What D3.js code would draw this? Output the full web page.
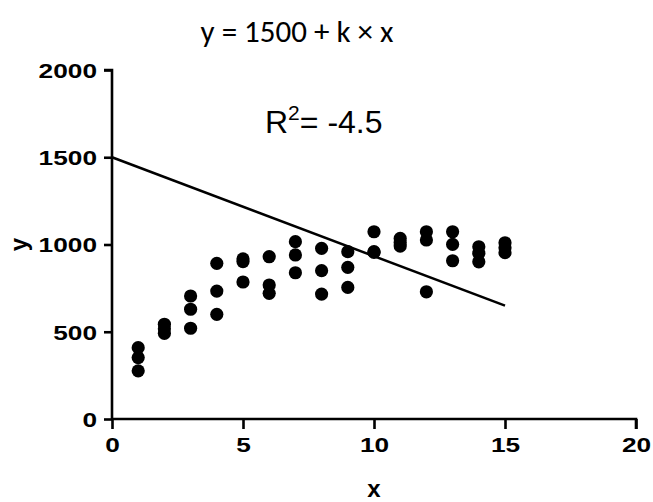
<!DOCTYPE html>
<html>
<head>
<meta charset="utf-8">
<script src="https://cdn.jsdelivr.net/npm/d3@7"></script>
<style>
  html, body { margin: 0; padding: 0; background: #fff; }
  svg { display: block; }
</style>
</head>
<body>
<script>
// Replicate measurements at each x, plus the fitted straight line y = 1500 + k·x
const xValues = [1, 2, 3, 4, 5, 6, 7, 8, 9, 10, 11, 12, 13, 14, 15];
const yReplicates = [
  [409, 352, 276],
  [543, 517, 491],
  [705, 629, 520],
  [892, 733, 600],
  [918, 902, 785],
  [930, 768, 720],
  [1016, 940, 838],
  [978, 850, 716],
  [959, 869, 754],
  [1073, 959, 955],
  [1035, 1012, 991],
  [1073, 1026, 729],
  [1073, 1001, 907],
  [987, 950, 901],
  [1010, 982, 953]
];
const intercept = 1500;
const slope = -56.7;
const fitRange = [0, 15];
const xTicks = [0, 5, 10, 15, 20];
const yTicks = [0, 500, 1000, 1500, 2000];
const titleText = "y = 1500 + k \u00d7 x";
const r2Value = "-4.5";

const W = 653, H = 502;
const svg = d3.select("body").append("svg").attr("width", W).attr("height", H);
svg.append("rect").attr("width", W).attr("height", H).attr("fill", "#fff");

const x = d3.scaleLinear().domain([0, 20]).range([112, 636]);
const y = d3.scaleLinear().domain([0, 2000]).range([419, 70]);

const labelFont = "'Liberation Sans', Arial, sans-serif";
const stretch = 1.25;

// Title
svg.append("text")
  .attr("x", 297).attr("y", 42)
  .attr("text-anchor", "middle")
  .attr("font-family", "Carlito, Calibri, 'Open Sans', sans-serif")
  .attr("font-size", 31)
  .attr("fill", "#000")
  .text(titleText);

// Axes
const xAxis = svg.append("g")
  .attr("transform", `translate(0,${y(0)})`)
  .call(d3.axisBottom(x).tickValues(xTicks).tickFormat(d3.format("d")).tickSize(10).tickSizeOuter(0));
const yAxis = svg.append("g")
  .attr("transform", `translate(${x(0)},0)`)
  .call(d3.axisLeft(y).tickValues(yTicks).tickFormat(d3.format("d")).tickSize(8).tickSizeOuter(0));

[xAxis, yAxis].forEach(g => {
  g.select(".domain").attr("stroke", "#000").attr("stroke-width", 2.6);
  g.selectAll(".tick line").attr("stroke", "#000").attr("stroke-width", 2.6);
  g.selectAll(".tick text")
    .attr("font-family", labelFont)
    .attr("font-weight", "bold")
    .attr("font-size", 21)
    .attr("fill", "#000");
});
xAxis.selectAll(".tick text")
  .attr("dy", null).attr("y", 33)
  .attr("transform", `scale(${stretch},1)`);
yAxis.selectAll(".tick text")
  .attr("dy", "0.35em").attr("x", -15 / stretch)
  .attr("transform", `scale(${stretch},1)`);

// Extend the domain lines so each axis has a small tail past the origin
xAxis.select(".domain").attr("d", `M${x(0)},0H${x(20)}V10`);
yAxis.select(".domain").attr("d", `M-8,${y(2000)}H0V${y(0)}`);

// Axis titles
svg.append("text")
  .attr("x", x(10)).attr("y", 497)
  .attr("text-anchor", "middle")
  .attr("font-family", labelFont).attr("font-weight", "bold").attr("font-size", 24)
  .text("x");
svg.append("text")
  .attr("transform", `translate(27,${y(1000)}) rotate(-90)`)
  .attr("text-anchor", "middle")
  .attr("font-family", labelFont).attr("font-weight", "bold").attr("font-size", 24)
  .text("y");

// Fitted line
svg.append("line")
  .attr("x1", x(fitRange[0])).attr("y1", y(intercept + slope * fitRange[0]))
  .attr("x2", x(fitRange[1])).attr("y2", y(intercept + slope * fitRange[1]))
  .attr("stroke", "#000").attr("stroke-width", 2.5);

// Data points
const points = xValues.flatMap((xv, i) => yReplicates[i].map(v => ({ x: xv, y: v })));
svg.append("g").selectAll("circle")
  .data(points)
  .join("circle")
  .attr("cx", d => x(d.x))
  .attr("cy", d => y(d.y))
  .attr("r", 6.6)
  .attr("fill", "#000");

// Goodness-of-fit annotation
const r2 = svg.append("text")
  .attr("x", 265).attr("y", 133)
  .attr("font-family", labelFont)
  .attr("font-size", 32)
  .attr("fill", "#000");
r2.append("tspan").text("R");
r2.append("tspan").attr("font-size", 21).attr("dy", -13).text("2");
r2.append("tspan").attr("dy", 13).text("= " + r2Value);
</script>
</body>
</html>
